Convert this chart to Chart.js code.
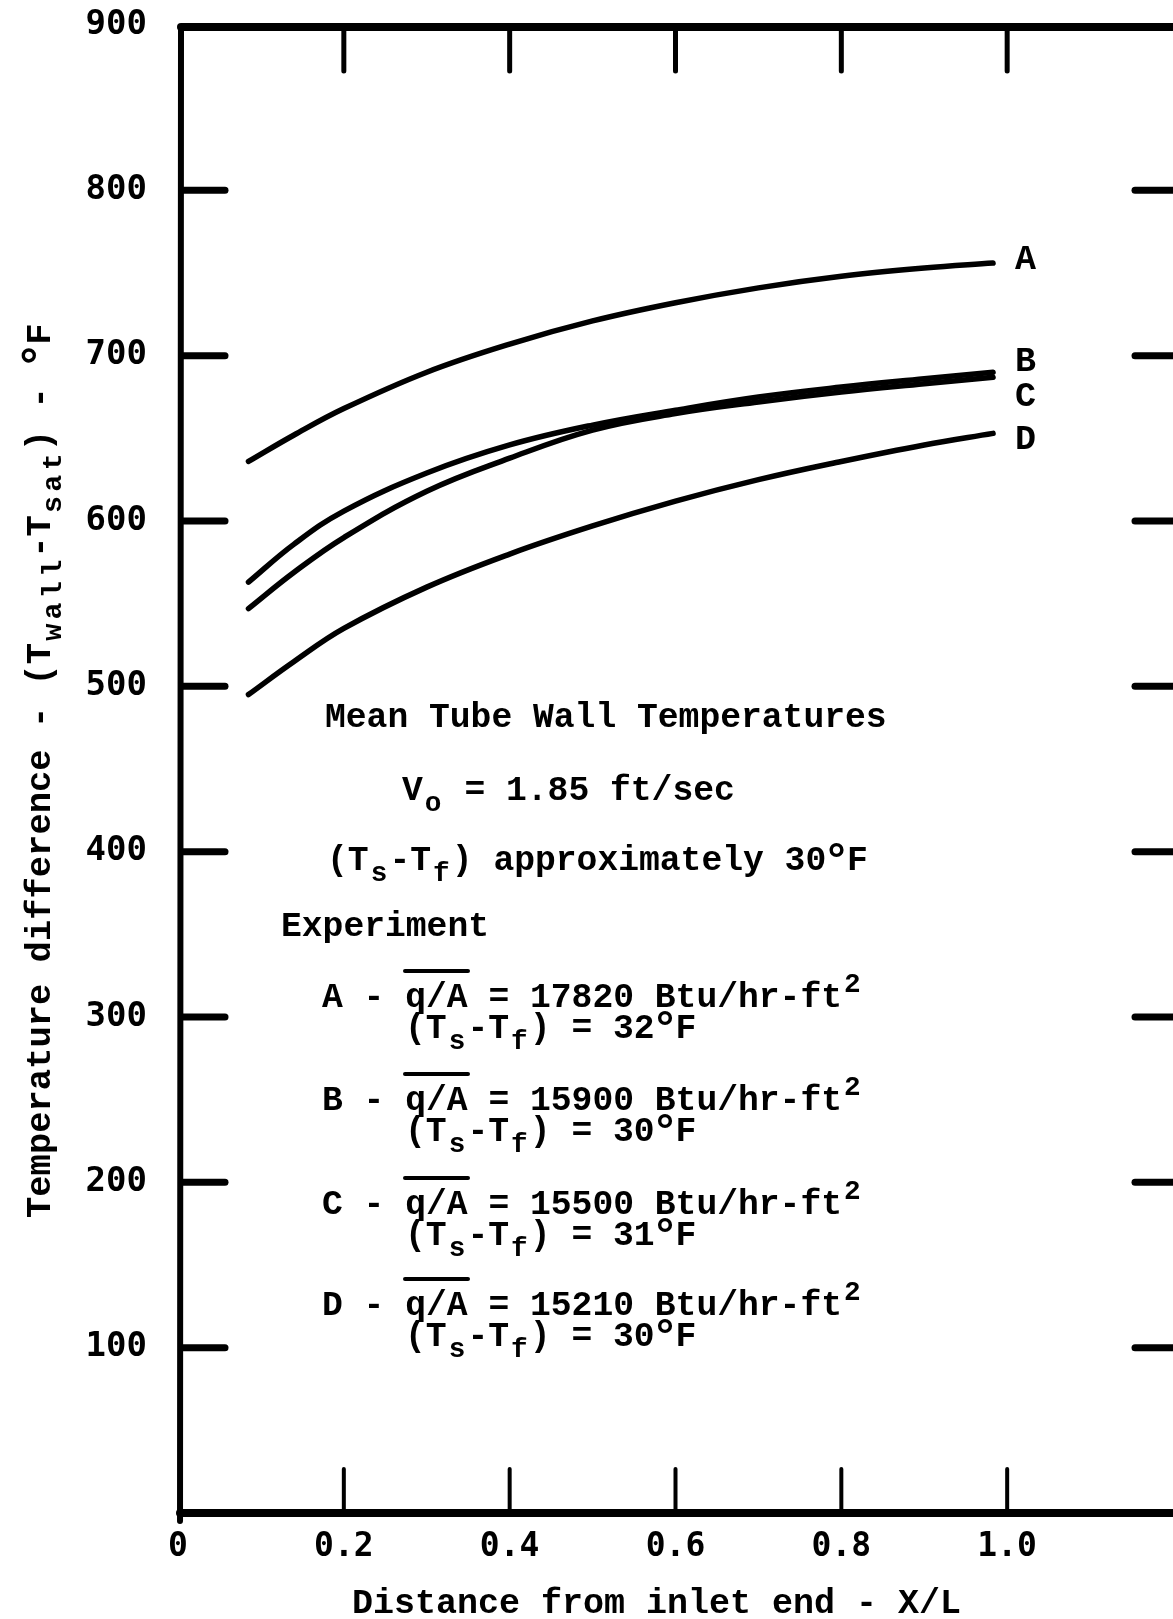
<!DOCTYPE html>
<html>
<head>
<meta charset="utf-8">
<script src="https://cdn.jsdelivr.net/npm/chart.js@4.4.1/dist/chart.umd.min.js"></script>
<style>
  html, body { margin: 0; padding: 0; background: #fff; overflow: hidden; }
  canvas { display: block; }
</style>
</head>
<body>
<canvas id="chart" width="1173" height="1619"></canvas>
<script>
// values
const xValues = [0.085, 0.14, 0.2, 0.3, 0.4, 0.5, 0.6, 0.7, 0.8, 0.9, 0.983];
const seriesA = [636, 652, 668, 690, 707, 721, 732, 741, 748, 753, 756];
const seriesB = [563, 586, 606, 629, 646, 658, 667, 675, 681, 686, 690];
const seriesC = [547, 569, 590, 618, 638, 655, 665, 672, 678, 683, 687];
const seriesD = [495, 515, 535, 560, 580, 597, 612, 625, 636, 646, 653];

const curveNames = ['A', 'B', 'C', 'D'];
const curveLabelY = [759, 697, 676, 650];

const xTickValues = [0, 0.2, 0.4, 0.6, 0.8, 1.0];
const xTickLabels = ['0', '0.2', '0.4', '0.6', '0.8', '1.0'];
const yTickValues = [100, 200, 300, 400, 500, 600, 700, 800, 900];
const yTickLabels = ['100', '200', '300', '400', '500', '600', '700', '800', '900'];

const noteLines = [
    'Mean Tube Wall Temperatures',
    'V_o = 1.85 ft/sec',
    '(T_s-T_f) approximately 30°F',
    'Experiment'
];
const experiments = [
    ['A - q/A = 17820 Btu/hr-ft^2', '(T_s-T_f) = 32°F'],
    ['B - q/A = 15900 Btu/hr-ft^2', '(T_s-T_f) = 30°F'],
    ['C - q/A = 15500 Btu/hr-ft^2', '(T_s-T_f) = 31°F'],
    ['D - q/A = 15210 Btu/hr-ft^2', '(T_s-T_f) = 30°F']
];

const yTitle = 'Temperature difference - (T_w_a_l_l-T_s_a_t) - °F';
const xTitle = 'Distance from inlet end - X/L';

const TYPE_FONT = '"Liberation Mono", "Courier New", monospace';
const TICK_FONT = '"DejaVu Sans Mono", monospace';

// typewriter style: every char sits in a fixed cell, _x is lowered, ^x raised
const typeLine = (ctx, str, x, y, pitch, size) => {
    let col = 0;
    ctx.textAlign = 'left';
    ctx.textBaseline = 'alphabetic';
    for (let i = 0; i < str.length; i++) {
        let ch = str[i];
        let s = size, dy = 0;
        if ((ch === '_' || ch === '^') && i + 1 < str.length) {
            if (ch === '_') { s = size * 0.8; dy = size * 0.32; }
            else { s = size * 0.8; dy = -size * 0.42; }
            ch = str[++i];
        } else if (ch === '°') {
            s = size * 1.3; dy = size * 0.12;
        }
        ctx.font = 'bold ' + s + 'px ' + TYPE_FONT;
        const w = ctx.measureText(ch).width;
        ctx.fillText(ch, x + col * pitch + (pitch - w) / 2, y + dy);
        col++;
    }
}

const stroke = (ctx, x1, y1, x2, y2, w) => {
    ctx.lineWidth = w;
    ctx.beginPath();
    ctx.moveTo(x1, y1);
    ctx.lineTo(x2, y2);
    ctx.stroke();
}

const framePlugin = {
    id: 'frame',
    afterDraw(chart) {
        const ctx = chart.ctx;
        const a = chart.chartArea;
        const xs = chart.scales.x, ys = chart.scales.y;
        ctx.save();
        ctx.strokeStyle = '#000';
        ctx.fillStyle = '#000';
        ctx.lineCap = 'round';

        // frame
        stroke(ctx, a.left + 3, a.top + 2, a.right + 6, a.top + 2, 8);
        stroke(ctx, a.left + 3, a.top + 2, a.left + 2, a.bottom + 8, 6);
        stroke(ctx, a.left + 2, a.bottom, a.right + 6, a.bottom, 8);

        // inward tick marks
        yTickValues.slice(0, -1).forEach(v => {
            const py = ys.getPixelForValue(v);
            stroke(ctx, a.left + 4, py, a.left + 47, py, 7);
            stroke(ctx, a.right - 38, py, a.right + 6, py, 7);
        });
        xTickValues.slice(1).forEach(v => {
            const px = xs.getPixelForValue(v);
            stroke(ctx, px, a.top + 4, px, a.top + 46, 5);
            stroke(ctx, px, a.bottom - 2, px, a.bottom - 44, 4);
        });

        // curve letters
        ctx.font = 'bold 35px ' + TYPE_FONT;
        ctx.textAlign = 'center';
        ctx.textBaseline = 'middle';
        curveNames.forEach((n, i) => {
            ctx.fillText(n, xs.getPixelForValue(1.022), ys.getPixelForValue(curveLabelY[i]) + 2);
        });

        // notes
        const pitch = 20.8, size = 34.7;
        typeLine(ctx, noteLines[0], 325, 727, pitch, size);
        typeLine(ctx, noteLines[1], 402, 800, pitch, size);
        typeLine(ctx, noteLines[2], 327, 870, pitch, size);
        typeLine(ctx, noteLines[3], 281, 936, pitch, size);
        const rowY = [1007, 1110, 1214, 1315];
        experiments.forEach((e, i) => {
            typeLine(ctx, e[0], 322, rowY[i], pitch, size);
            typeLine(ctx, e[1], 405, rowY[i] + 31, pitch, size);
            stroke(ctx, 405, rowY[i] - 36, 468, rowY[i] - 36, 4);
        });

        // axis titles
        typeLine(ctx, xTitle, 352, 1613, 21, 35);
        ctx.save();
        ctx.translate(50, 1218);
        ctx.rotate(-Math.PI / 2);
        typeLine(ctx, yTitle, 0, 0, 21.3, 35.5);
        ctx.restore();

        ctx.restore();
    }
};

const makeSeries = (vals) => xValues.map((x, i) => ({ x: x, y: vals[i] }));

const lineStyle = {
    borderColor: '#000',
    borderWidth: 5.5,
    borderCapStyle: 'round',
    borderJoinStyle: 'round',
    pointRadius: 0,
    tension: 0.4,
    fill: false
};

new Chart(document.getElementById('chart'), {
    type: 'line',
    data: {
        datasets: [
            { label: 'A', data: makeSeries(seriesA), ...lineStyle },
            { label: 'B', data: makeSeries(seriesB), ...lineStyle },
            { label: 'C', data: makeSeries(seriesC), ...lineStyle },
            { label: 'D', data: makeSeries(seriesD), ...lineStyle }
        ]
    },
    options: {
        responsive: false,
        animation: false,
        devicePixelRatio: 1,
        layout: { padding: { top: 25, left: 0, right: 0, bottom: 0 } },
        plugins: {
            legend: { display: false },
            tooltip: { enabled: false }
        },
        scales: {
            x: {
                type: 'linear',
                min: 0,
                max: 1.2,
                afterFit: (scale) => {
                    scale.height = 106;
                    scale.paddingLeft = 0;
                    scale.paddingRight = 0;
                },
                afterBuildTicks: (scale) => { scale.ticks = xTickValues.map(v => ({ value: v })); },
                grid: { display: false, drawTicks: false },
                border: { display: false },
                ticks: {
                    autoSkip: false,
                    maxRotation: 0,
                    padding: 15,
                    color: '#000',
                    font: { family: TICK_FONT, size: 33, weight: 'bold' },
                    callback: (v) => xTickLabels[xTickValues.indexOf(v)]
                }
            },
            y: {
                type: 'linear',
                min: 0,
                max: 900,
                afterFit: (scale) => {
                    scale.width = 178;
                    scale.paddingTop = 0;
                    scale.paddingBottom = 0;
                },
                afterBuildTicks: (scale) => { scale.ticks = yTickValues.map(v => ({ value: v })); },
                grid: { display: false, drawTicks: false },
                border: { display: false },
                ticks: {
                    autoSkip: false,
                    padding: 31,
                    color: '#000',
                    font: { family: TICK_FONT, size: 34, weight: 'bold' },
                    callback: (v) => yTickLabels[yTickValues.indexOf(v)]
                }
            }
        }
    },
    plugins: [framePlugin]
});
</script>
</body>
</html>
